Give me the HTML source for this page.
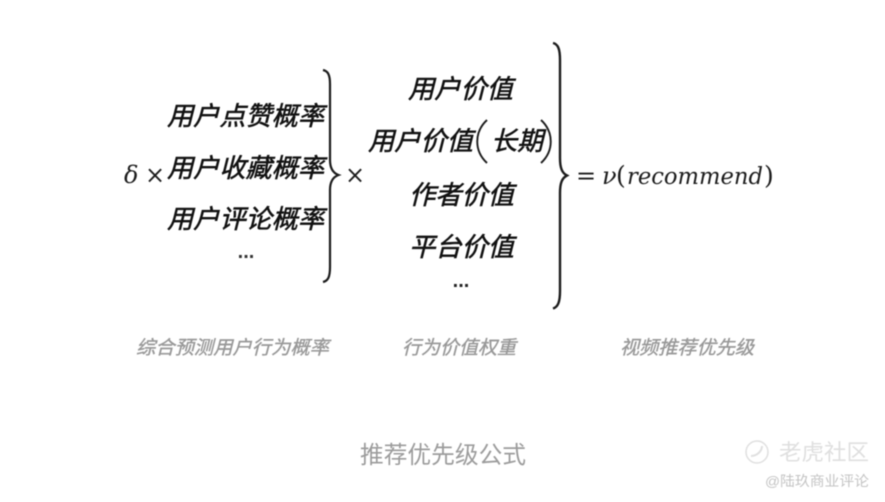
<!DOCTYPE html>
<html><head><meta charset="utf-8">
<style>
html,body{margin:0;padding:0;background:#fff;width:885px;height:502px;overflow:hidden}
svg{display:block;filter:blur(.45px)}
text{font-family:"Liberation Sans","Noto Sans CJK SC",sans-serif}
.m{font-size:26px;font-style:italic;fill:#111;stroke:#111;stroke-width:.55px}
.c{font-size:19px;font-style:italic;fill:#989898;stroke:#989898;stroke-width:.35px}
.f{font-family:"DejaVu Serif","Liberation Serif",serif;fill:#1c1c1c}
</style></head>
<body>
<svg width="885" height="502" viewBox="0 0 885 502" xmlns="http://www.w3.org/2000/svg">
<rect width="885" height="502" fill="#fff"/>
<text class="m" x="167" y="125" textLength="157" lengthAdjust="spacingAndGlyphs">用户点赞概率</text>
<text class="m" x="167" y="177" textLength="157" lengthAdjust="spacingAndGlyphs">用户收藏概率</text>
<text class="m" x="167" y="228" textLength="157" lengthAdjust="spacingAndGlyphs">用户评论概率</text>
<text x="246" y="258" font-size="20" font-weight="bold" text-anchor="middle" fill="#333">...</text>
<text class="f" x="124" y="183" font-size="24" font-style="italic">δ</text>
<text class="f" x="145" y="183" font-size="24">×</text>
<text class="f" x="345" y="183" font-size="24">×</text>
<path d="M323 70C328 71 330 75 330 84L330 160C330 168 333 173 338.500 175C333 177 330 182 330 190L330 267C330 277 328 281 323 282" fill="none" stroke="#1c1c1c" stroke-width="2.200"/>
<text class="m" x="408" y="98" textLength="105" lengthAdjust="spacingAndGlyphs">用户价值</text>
<text class="m" x="368" y="150" textLength="105" lengthAdjust="spacingAndGlyphs">用户价值</text>
<path d="M487 120C474 132 474 151 487 163" fill="none" stroke="#1c1c1c" stroke-width="1.900"/>
<text class="m" x="491" y="150" textLength="52" lengthAdjust="spacingAndGlyphs">长期</text>
<path d="M541 120C554 132 554 151 541 163" fill="none" stroke="#1c1c1c" stroke-width="1.900"/>
<text class="m" x="409" y="204" textLength="105" lengthAdjust="spacingAndGlyphs">作者价值</text>
<text class="m" x="409" y="256" textLength="105" lengthAdjust="spacingAndGlyphs">平台价值</text>
<text x="461" y="287" font-size="20" font-weight="bold" text-anchor="middle" fill="#222">...</text>
<path d="M553 43C558 44 560 49 560 60L560 158C560 168 562 173 567 175.500C562 178 560 183 560 193L560 291C560 302 558 307 553 308.500" fill="none" stroke="#1c1c1c" stroke-width="2.400"/>
<text class="f" x="576" y="184" font-size="24">=</text>
<text class="f" x="602" y="184" font-size="24" font-style="italic">ν</text>
<text class="f" x="616" y="184" font-size="25">(</text>
<text class="f" x="627" y="184" font-size="23" font-style="italic" textLength="136" lengthAdjust="spacingAndGlyphs">recommend</text>
<text class="f" x="764" y="184" font-size="25">)</text>
<text class="c" x="136" y="354" textLength="193" lengthAdjust="spacingAndGlyphs">综合预测用户行为概率</text>
<text class="c" x="402" y="354" textLength="114" lengthAdjust="spacingAndGlyphs">行为价值权重</text>
<text class="c" x="620" y="354" textLength="134" lengthAdjust="spacingAndGlyphs">视频推荐优先级</text>
<text x="360" y="463" font-size="24" fill="#9c9c9c" textLength="166" lengthAdjust="spacingAndGlyphs">推荐优先级公式</text>
<circle cx="757" cy="452" r="11" fill="none" stroke="#e0e0e0" stroke-width="1.500"/>
<path d="M751 456C757 456 762 451 762 446" fill="none" stroke="#e0e0e0" stroke-width="2"/>
<text x="779" y="460" font-size="22" fill="#dfdfdf" textLength="90" lengthAdjust="spacingAndGlyphs">老虎社区</text>
<text x="765" y="486" font-size="14" fill="#c4c4c4" textLength="104" lengthAdjust="spacingAndGlyphs">@陆玖商业评论</text>
</svg>
</body></html>
